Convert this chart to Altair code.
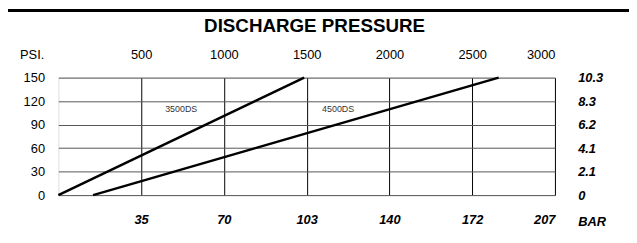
import altair as alt
import pandas as pd

# ---- data ----
series = ["3500DS", "3500DS", "4500DS", "4500DS"]
line_psi = [0, 1485, 210, 2660]          # discharge pressure (PSI)
line_inlet = [0, 150, 0, 150]            # left-axis value

label_names = ["3500DS", "4500DS"]
label_psi = [742, 1690]
label_inlet = [110, 110]

top_vals = [500, 1000, 1500, 2000, 2500, 3000]
bar_x_labels = ["35", "70", "103", "140", "172", "207"]
left_vals = [0, 30, 60, 90, 120, 150]
bar_y_labels = ["0", "2.1", "4.1", "6.2", "8.3", "10.3"]

FONT = "Liberation Sans"


def label_expr(vals, labels):
    expr = "''"
    for v, l in reversed(list(zip(vals, labels))):
        expr = f"datum.value == {v} ? '{l}' : ({expr})"
    return expr


df = pd.DataFrame({"series": series, "psi": line_psi, "inlet": line_inlet})
lab = pd.DataFrame({"name": label_names, "psi": label_psi, "inlet": label_inlet})

xs = alt.Scale(domain=[0, 3000], nice=False, zero=False)
ys = alt.Scale(domain=[0, 150], nice=False, zero=False)

lines = alt.Chart(df).mark_line(color="black", strokeWidth=2.5, clip=False).encode(
    x=alt.X("psi:Q", scale=xs, axis=alt.Axis(
        orient="top", values=top_vals, format="d", grid=True, gridColor="black",
        gridWidth=1, gridOpacity=1, ticks=False, tickSize=0, domain=False,
        labelPadding=16, labelFont=FONT, labelFontSize=13, labelColor="black",
        title="PSI.", titleX=-27, titleY=-19, titleAngle=0, titleAlign="center",
        titleBaseline="alphabetic", titleFont=FONT, titleFontSize=13,
        titleFontWeight="normal", titleColor="black")),
    y=alt.Y("inlet:Q", scale=ys, axis=alt.Axis(
        orient="left", values=left_vals, grid=True, gridColor="#555", gridWidth=1,
        gridOpacity=1, ticks=False, tickSize=0, domain=False, labelPadding=14,
        labelFont=FONT, labelFontSize=13, labelColor="black", title=None)),
    detail="series:N",
)

texts = alt.Chart(lab).mark_text(font=FONT, fontSize=9, color="#333").encode(
    x=alt.X("psi:Q", scale=xs, axis=alt.Axis(
        orient="bottom", values=top_vals, labelExpr=label_expr(top_vals, bar_x_labels),
        grid=False, ticks=False, tickSize=0, domain=False, labelPadding=19,
        labelFont=FONT, labelFontSize=13, labelFontWeight="bold",
        labelFontStyle="italic", labelColor="black",
        title="BAR", titleX=526, titleY=31, titleAngle=0, titleAlign="left",
        titleBaseline="alphabetic", titleFont=FONT, titleFontSize=13,
        titleFontWeight="bold", titleFontStyle="italic", titleColor="black")),
    y=alt.Y("inlet:Q", scale=ys, axis=alt.Axis(
        orient="right", values=left_vals, labelExpr=label_expr(left_vals, bar_y_labels),
        grid=False, ticks=False, tickSize=0, domain=False, labelPadding=23,
        labelAlign="left", labelFont=FONT, labelFontSize=13, labelFontWeight="bold",
        labelFontStyle="italic", labelColor="black", title=None)),
    text="name:N",
)

top_rule = alt.Chart(pd.DataFrame({"k": [0]})).mark_rule(
    color="black", strokeWidth=3, clip=False
).encode(x=alt.value(-51), x2=alt.value(578), y=alt.value(-68))

chart = alt.layer(lines, texts, top_rule).resolve_scale(
    x="independent", y="independent"
).properties(
    width=503, height=119,
    padding={"left": 51, "top": 69, "right": 75, "bottom": 47},
    autosize=alt.AutoSizeParams(type="none"),
    title=alt.TitleParams("DISCHARGE PRESSURE", font=FONT, fontSize=19,
                          fontWeight="bold", color="black", anchor="middle",
                          baseline="alphabetic", offset=14, dx=8, dy=56),
).configure_view(stroke="black", strokeWidth=1.2).configure(background="white")

chart.save("out.html", embed_options={"renderer": "svg", "actions": False})
